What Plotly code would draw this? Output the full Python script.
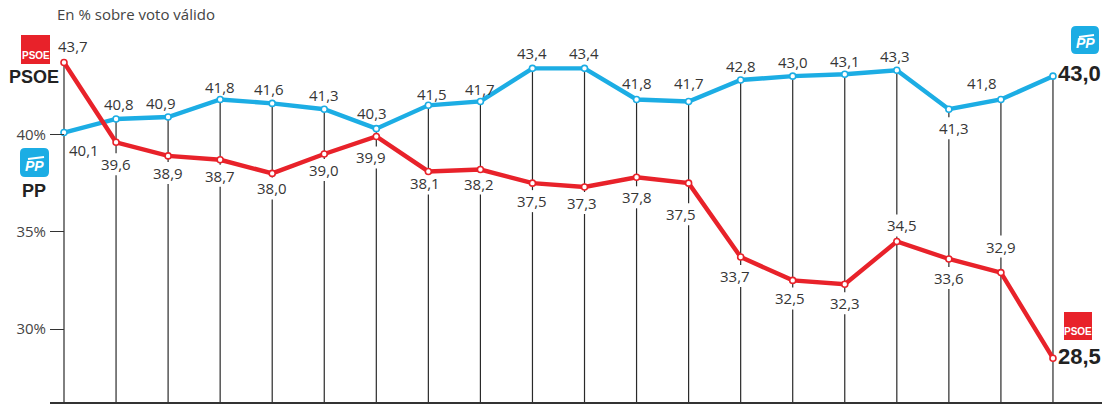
import plotly.graph_objects as go

# ---------------- data ----------------
periods = list(range(20))
pp = [40.1, 40.8, 40.9, 41.8, 41.6, 41.3, 40.3, 41.5, 41.7, 43.4,
      43.4, 41.8, 41.7, 42.8, 43.0, 43.1, 43.3, 41.3, 41.8, 43.0]
psoe = [43.7, 39.6, 38.9, 38.7, 38.0, 39.0, 39.9, 38.1, 38.2, 37.5,
        37.3, 37.8, 37.5, 33.7, 32.5, 32.3, 34.5, 33.6, 32.9, 28.5]
y_ticks = [30, 35, 40]
y_tick_labels = ["30%", "35%", "40%"]
title_text = "En % sobre voto válido"
party_pp = "PP"
party_psoe = "PSOE"

# ---------------- style / label placement (pixels) ----------------
RED = "#E8222A"
BLUE = "#1CADE4"
TXT = "#363636"
FONT = "Open Sans"

pp_dx = [20, 3, -7, 0, -3, 0, -4, 4, 0, 0, -1, 0, 0, 0, 0, 0, -2, 5, -19, None]
pp_dy = [-17, 15, 14, 12, 14, 14, 16, 11, 12, 15, 15, 16, 18, 14, 14, 13, 14, -19, 16, None]
psoe_dx = [9, 0, 0, 0, 0, 0, -5, -3, -1, 0, -3, 0, -8, -6, -3, 0, 5, 0, 0, None]
psoe_dy = [17, -22, -17, -16, -15, -16, -21, -12, -14, -18, -16, -20, -31, -19, -18, -19, 16, -19, 26, None]

W, H = 1102, 404
ML, MR, MT, MB = 50, 0, 0, 2
PLOT_W = W - ML - MR
PLOT_H = H - MT - MB
X0, X1 = -0.269, 19.942
Y0, Y1 = 26.247, 46.915
yscale = PLOT_H / (Y1 - Y0)


def px(xp, yp):
    """page pixel -> paper coords (decorations only)"""
    return (xp - ML) / PLOT_W, (H - MB - yp) / PLOT_H


fig = go.Figure()

# vertical guide lines from the upper point down to the base, broken under labels
vx, vy = [], []
gap = 11 / yscale
for i in periods:
    top = max(pp[i], psoe[i])
    gaps = []
    for vals, dxs, dys in ((pp, pp_dx, pp_dy), (psoe, psoe_dx, psoe_dy)):
        if dys[i] is None:
            continue
        ly = vals[i] + dys[i] / yscale
        if abs(dxs[i]) < 17 and ly < top:
            gaps.append((ly - gap, ly + gap))
    cur = top
    for lo, hi in sorted(gaps, key=lambda g: -g[1]):
        if hi < cur:
            vx += [i, i, None]
            vy += [cur, hi, None]
        cur = min(cur, lo)
    vx += [i, i, None]
    vy += [cur, Y0, None]

fig.add_trace(go.Scatter(x=vx, y=vy, mode="lines",
                         line=dict(color="#2a2a2a", width=1.2),
                         hoverinfo="skip"))

for vals, col in ((pp, BLUE), (psoe, RED)):
    fig.add_trace(go.Scatter(
        x=periods, y=vals, mode="lines+markers",
        line=dict(color=col, width=4.4),
        marker=dict(size=6, color="white", line=dict(color=col, width=1.6)),
        hoverinfo="skip"))

ann = []
for vals, dxs, dys in ((pp, pp_dx, pp_dy), (psoe, psoe_dx, psoe_dy)):
    for i in periods:
        if dys[i] is None:
            continue
        ann.append(dict(x=i, y=vals[i], xref="x", yref="y",
                        xanchor="center", yanchor="middle",
                        text=f"{vals[i]:.1f}".replace(".", ","),
                        showarrow=False, xshift=dxs[i], yshift=dys[i],
                        font=dict(family=FONT, size=15, color=TXT)))

last = periods[-1]
ann.append(dict(x=last, y=pp[-1], xref="x", yref="y", xanchor="left",
                yanchor="middle",
                text="<b>" + f"{pp[-1]:.1f}".replace(".", ",") + "</b>",
                showarrow=False, xshift=3, yshift=3,
                font=dict(family="Liberation Sans", size=22, color="#222222")))
ann.append(dict(x=last, y=psoe[-1], xref="x", yref="y", xanchor="left",
                yanchor="middle",
                text="<b>" + f"{psoe[-1]:.1f}".replace(".", ",") + "</b>",
                showarrow=False, xshift=3, yshift=2,
                font=dict(family="Liberation Sans", size=22, color="#222222")))

# title
tx, ty = px(55, 14)
ann.append(dict(x=tx, y=ty, xref="paper", yref="paper", xanchor="left",
                yanchor="middle", text=title_text, showarrow=False,
                font=dict(family=FONT, size=15, color="#444444")))

# party name labels on the left
for name, cx, cy in ((party_psoe, 34, 77), (party_pp, 34, 191)):
    ax_, ay_ = px(cx, cy)
    ann.append(dict(x=ax_, y=ay_, xref="paper", yref="paper",
                    xanchor="center", yanchor="middle",
                    text=f"<b>{name}</b>", showarrow=False,
                    font=dict(family="Liberation Sans", size=18, color="#222222")))

shapes = []


def psoe_logo(x0p, y0p, size):
    a0 = px(x0p, y0p + size)
    a1 = px(x0p + size, y0p)
    shapes.append(dict(type="rect", xref="paper", yref="paper",
                       x0=a0[0], y0=a0[1], x1=a1[0], y1=a1[1],
                       fillcolor=RED, line=dict(width=0)))
    c = px(x0p + size / 2, y0p + size * 0.70)
    ann.append(dict(x=c[0], y=c[1], xref="paper", yref="paper",
                    xanchor="center", yanchor="middle",
                    text="<b>PSOE</b>", showarrow=False,
                    font=dict(family="Liberation Sans Narrow, Liberation Sans",
                              size=10, color="white")))


def pp_logo(x0p, y0p, size):
    r = 5

    def P(xp, yp):
        a = px(xp, yp)
        return f"{a[0]:.5f},{a[1]:.5f}"
    x1p, y1p = x0p + size, y0p + size
    path = (f"M {P(x0p + r, y0p)} L {P(x1p - r, y0p)} Q {P(x1p, y0p)} {P(x1p, y0p + r)} "
            f"L {P(x1p, y1p - r)} Q {P(x1p, y1p)} {P(x1p - r, y1p)} "
            f"L {P(x0p + r, y1p)} Q {P(x0p, y1p)} {P(x0p, y1p - r)} "
            f"L {P(x0p, y0p + r)} Q {P(x0p, y0p)} {P(x0p + r, y0p)} Z")
    shapes.append(dict(type="path", xref="paper", yref="paper", path=path,
                       fillcolor=BLUE, line=dict(width=0)))
    # small gull stroke
    g0 = px(x0p + 8, y0p + 11)
    g1 = px(x0p + size - 5, y0p + 9)
    shapes.append(dict(type="line", xref="paper", yref="paper",
                       x0=g0[0], y0=g0[1], x1=g1[0], y1=g1[1],
                       line=dict(color="white", width=2)))
    c = px(x0p + size / 2, y0p + size * 0.62)
    ann.append(dict(x=c[0], y=c[1], xref="paper", yref="paper",
                    xanchor="center", yanchor="middle",
                    text="<b><i>PP</i></b>", showarrow=False,
                    font=dict(family="Liberation Sans", size=14, color="white")))


psoe_logo(21, 35, 29)
psoe_logo(1064, 312, 28)
pp_logo(20, 148, 29)
pp_logo(1071, 26, 28)

fig.update_layout(
    width=W, height=H,
    margin=dict(l=ML, r=MR, t=MT, b=MB),
    paper_bgcolor="white", plot_bgcolor="white",
    showlegend=False,
    annotations=ann, shapes=shapes,
    xaxis=dict(range=[X0, X1], showline=True, linecolor="#333333", linewidth=1.5,
               showticklabels=False, ticks="", showgrid=False, zeroline=False,
               fixedrange=True),
    yaxis=dict(range=[Y0, Y1], tickvals=y_ticks, ticktext=y_tick_labels,
               ticks="inside", ticklen=14, tickcolor="#333333", tickwidth=1.2,
               showgrid=False, zeroline=False, showline=False,
               ticklabelstandoff=3,
               tickfont=dict(family=FONT, size=15, color="#444444"),
               fixedrange=True),
)

fig.write_html("out.html", config={"displayModeBar": False},
               post_script="document.body.style.margin='0';document.body.style.overflow='hidden';")
